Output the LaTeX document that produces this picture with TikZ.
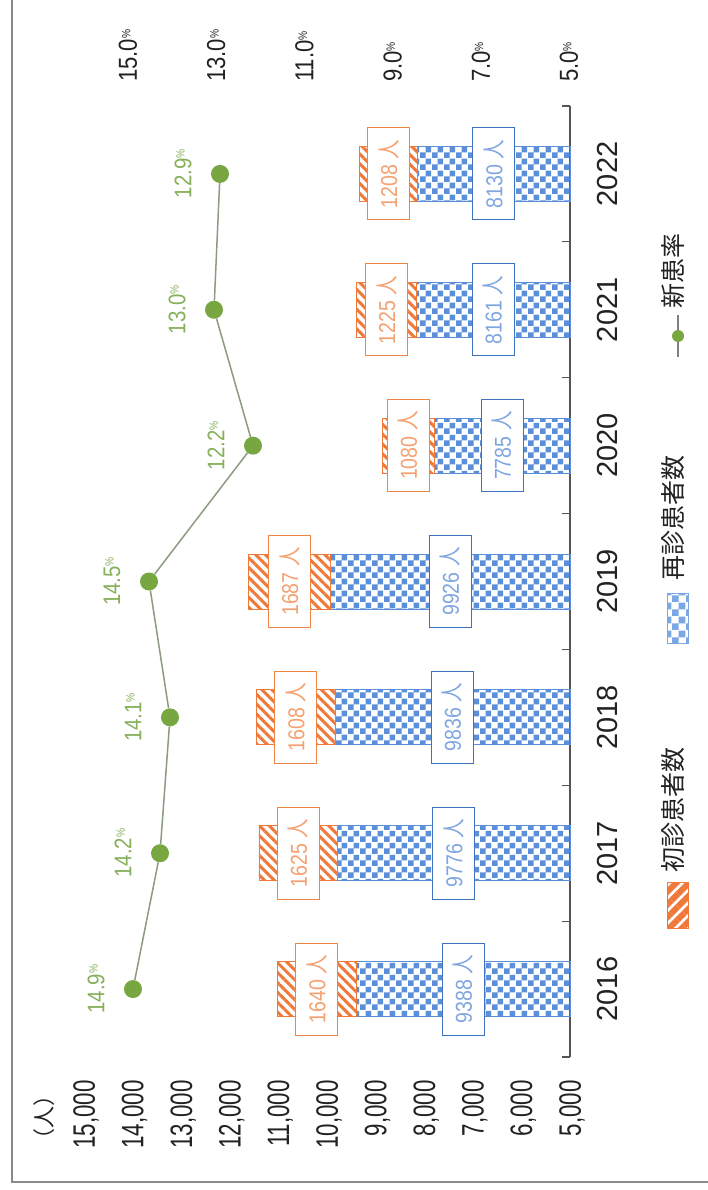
\documentclass[tikz,border=0pt]{standalone}
\usepackage{fontspec}
\setmainfont{Liberation Sans}
\newfontfamily\jp{Noto Sans CJK JP}
\usetikzlibrary{patterns,patterns.meta}
\pgfdeclarepatternformonly{chk}{\pgfpointorigin}{\pgfpoint{12pt}{12pt}}{\pgfpoint{12pt}{12pt}}{%
 \pgfpathrectangle{\pgfpointorigin}{\pgfpoint{6pt}{6pt}}%
 \pgfpathrectangle{\pgfpoint{6pt}{6pt}}{\pgfpoint{6pt}{6pt}}%
 \pgfusepath{fill}}
\pgfdeclarepatternformonly{chkbig}{\pgfpointorigin}{\pgfpoint{14pt}{14pt}}{\pgfpoint{14pt}{14pt}}{%
 \pgfpathrectangle{\pgfpointorigin}{\pgfpoint{7pt}{7pt}}%
 \pgfpathrectangle{\pgfpoint{7pt}{7pt}}{\pgfpoint{7pt}{7pt}}%
 \pgfusepath{fill}}
\definecolor{bluefill}{HTML}{5B8FD9}
\definecolor{blueborder}{HTML}{3F72BE}
\definecolor{bluetext}{HTML}{7FA6E0}
\definecolor{bluelegend}{HTML}{7BA7E3}
\definecolor{orangefill}{HTML}{F07838}
\definecolor{orangeborder}{HTML}{F08445}
\definecolor{orangetext}{HTML}{F5A070}
\definecolor{dotgreen}{HTML}{78A640}
\definecolor{greentext}{HTML}{86B05A}
\definecolor{rateline}{HTML}{8C9C80}
\definecolor{axisgray}{HTML}{555555}
\definecolor{framegray}{HTML}{8A8A8A}
\definecolor{inkblack}{HTML}{222222}
\newcommand\mypct{{\fontsize{12}{12}\selectfont\raisebox{0.55em}{\%}}}
\begin{document}
\begin{tikzpicture}[x=1pt,y=-1pt,
  bluebar/.style={pattern=chk, pattern color=bluefill, draw=bluefill, line width=0.8pt},
  orangebar/.style={pattern={Lines[angle=-45,distance=7pt,line width=3pt]}, pattern color=orangefill, draw=orangefill, line width=0.8pt},
  bluelab/.style={draw=blueborder, fill=white, line width=1pt, rotate=90, minimum width=92pt, minimum height=42pt, inner sep=0pt, text=bluetext, font=\fontsize{23}{23}\selectfont},
  orangelab/.style={draw=orangeborder, fill=white, line width=1pt, rotate=90, minimum width=92pt, minimum height=42pt, inner sep=0pt, text=orangetext, font=\fontsize{23}{23}\selectfont},
  dot/.style={circle, fill=dotgreen, minimum size=18pt, inner sep=0pt},
  pctlab/.style={rotate=90, inner sep=0pt, text=greentext, font=\fontsize{24}{24}\selectfont},
  toplab/.style={rotate=90, inner sep=0pt, text=inkblack, font=\fontsize{26}{26}\selectfont},
  vallab/.style={rotate=90, inner sep=0pt, text=inkblack, font=\fontsize{31}{31}\selectfont},
  yearlab/.style={rotate=90, inner sep=0pt, text=inkblack, font=\fontsize{29}{29}\selectfont},
  legtext/.style={rotate=90, inner sep=0pt, text=inkblack, font=\jp\fontsize{25}{25}\selectfont},
  rateline/.style={draw=rateline, line width=1.5pt}
]
\useasboundingbox (0,0) rectangle (708,1190);
\fill[white] (0,0) rectangle (708,1190);
% frame
\draw[framegray, line width=1.5pt] (12,0) -- (12,1182) -- (708,1182);
% category axis
\draw[axisgray, line width=1.2pt] (570,106) -- (570,1057);
\foreach \k in {0,...,7}
  \draw[axisgray, line width=1.2pt] (562,{106+135.857*\k}) -- (570,{106+135.857*\k});
% value axis labels
\foreach \v in {15,14,...,5}
  \node[vallab, anchor=east] at ({572-(\v-5)*48.6},1080) {\scalebox{0.72}[1]{\v,000}};
\node[rotate=90, inner sep=0pt, text=inkblack, font=\jp\fontsize{22}{22}\selectfont] (unit) at (44,1117) {（人）};
% percent axis labels
\foreach \v [count=\k from 0] in {15.0,13.0,11.0,9.0,7.0,5.0}
  \node[toplab, anchor=west] at ({128+88.2*\k},82) {\scalebox{0.85}[1]{\v\mypct}};
% bars, labels, dots
\foreach \yr/\b/\o/\p/\px [count=\i from 0] in {
  2016/9388/1640/14.9/133,
  2017/9776/1625/14.2/160,
  2018/9836/1608/14.1/170,
  2019/9926/1687/14.5/149,
  2020/7785/1080/12.2/253,
  2021/8161/1225/13.0/214,
  2022/8130/1208/12.9/220}{
  \pgfmathsetmacro\cy{1057-67.93-135.857*\i}
  \pgfmathsetmacro\xb{570-(\b-5000)*0.0486}
  \pgfmathsetmacro\xo{\xb-\o*0.0486}
  \path[bluebar] (570,\cy-27.5) rectangle (\xb,\cy+27.5);
  \path[orangebar] (\xb,\cy-27.5) rectangle (\xo,\cy+27.5);
  \node[bluelab] (b\i) at ({(570+\xb)/2},\cy) {\scalebox{0.85}[1]{\b\ {\jp 人}}};
  \node[orangelab] (o\i) at ({(\xb+\xo)/2},\cy) {\scalebox{0.85}[1]{\o\ {\jp 人}}};
  \node[dot] (d\i) at (\px,\cy) {};
  \node[pctlab] (p\i) at (\px-37,\cy) {\scalebox{0.85}[1]{\p\mypct}};
  \node[yearlab] (y\i) at (608,\cy) {\yr};
}
\draw[rateline] (d0) -- (d1) -- (d2) -- (d3) -- (d4) -- (d5) -- (d6);
% legend
\path[pattern={Lines[angle=45,distance=9pt,line width=6pt]}, pattern color=orangefill, draw=orangefill, line width=0.8pt] (667,882) rectangle (688,928);
\node[legtext] (l1) at (673,810) {初診患者数};
\path[pattern=chkbig, pattern color=bluelegend, draw=bluelegend, line width=0.8pt] (667,593) rectangle (688,643);
\node[legtext] (l2) at (673,518) {再診患者数};
\coordinate (m1) at (678,357);
\coordinate (m2) at (678,315);
\draw[gray, line width=1.2pt] (m1) -- (m2);
\node[circle, fill=dotgreen, minimum size=12pt, inner sep=0pt] (md) at (678,336) {};
\node[legtext] (l3) at (673,271) {新患率};
\end{tikzpicture}
\end{document}
